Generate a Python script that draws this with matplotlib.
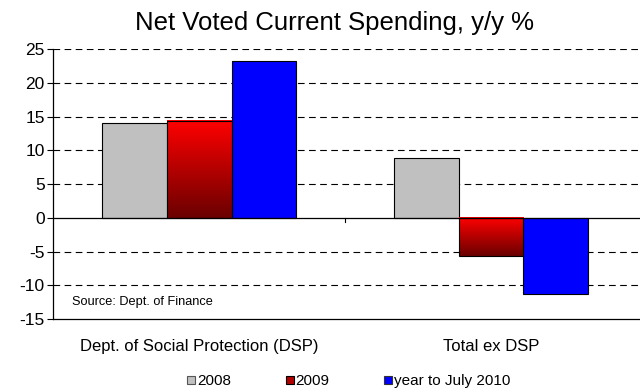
import matplotlib.pyplot as plt
import numpy as np
from matplotlib.colors import LinearSegmentedColormap
from matplotlib.patches import Patch

plt.rcParams['font.family'] = ['Liberation Sans', 'DejaVu Sans']

categories = ['Dept. of Social Protection (DSP)', 'Total ex DSP']
series = ['2008', '2009', 'year to July 2010']
v2008 = [14.0, 8.9]
v2009 = [14.4, -5.7]
v2010 = [23.2, -11.3]

fig = plt.figure(figsize=(6.4, 3.92), dpi=100)
ax = fig.add_axes([0.083, 0.186, 0.917, 0.689])

x = np.arange(len(categories))
w = 0.222
red_cmap = LinearSegmentedColormap.from_list('reds', ['#6a0000', '#ff0000'])
grad = np.linspace(0, 1, 256).reshape(-1, 1)

ax.bar(x - w, v2008, w, color='#c0c0c0', edgecolor='black', linewidth=0.8, zorder=3)
bars09 = ax.bar(x, v2009, w, color='none', edgecolor='black', linewidth=0.8, zorder=4)
for b in bars09:
    x0 = b.get_x()
    y0, y1 = sorted([b.get_y(), b.get_y() + b.get_height()])
    ax.imshow(grad, cmap=red_cmap, origin='lower', aspect='auto',
              extent=[x0, x0 + b.get_width(), y0, y1], zorder=3)
ax.bar(x + w, v2010, w, color='#0000ff', edgecolor='black', linewidth=0.8, zorder=3)

ax.set_yticks(range(-15, 30, 5))
ax.set_yticklabels([str(t) for t in range(-15, 30, 5)], fontsize=12.5)
for t in [-10, -5, 5, 10, 15, 20, 25]:
    ax.axhline(t, color='black', linewidth=0.8, dashes=(6, 4), zorder=1)
ax.axhline(0, color='black', linewidth=0.9, zorder=5)
ax.plot([0.5, 0.5], [0, -0.6], color='black', linewidth=0.8, zorder=5)

ax.set_xticks(x)
ax.set_xticklabels(categories, fontsize=12)
ax.tick_params(axis='x', length=0, pad=14)
ax.tick_params(axis='y', length=4, width=0.8, pad=2)
ax.spines['top'].set_visible(False)
ax.spines['right'].set_visible(False)
ax.spines['left'].set_linewidth(0.9)
ax.spines['bottom'].set_linewidth(0.9)
ax.set_xlim(-0.5, 1.51)
ax.set_ylim(-15, 25)

ax.text(-0.435, -12.5, 'Source: Dept. of Finance', fontsize=9.2, va='center')
fig.text(0.522, 0.942, 'Net Voted Current Spending, y/y %', fontsize=18.5,
         ha='center', va='center')

handles = [Patch(facecolor='#c0c0c0', edgecolor='#555555', linewidth=0.8),
           Patch(facecolor='#b00000', edgecolor='black', linewidth=0.8),
           Patch(facecolor='#0000ff', edgecolor='#333333', linewidth=0.8)]
fig.legend(handles, series, loc='center', bbox_to_anchor=(0.545, 0.027), ncol=3,
           frameon=False, fontsize=11, handlelength=0.5, handleheight=0.5,
           handletextpad=0.12, columnspacing=3.6)

fig.savefig('out.png', dpi=100)
